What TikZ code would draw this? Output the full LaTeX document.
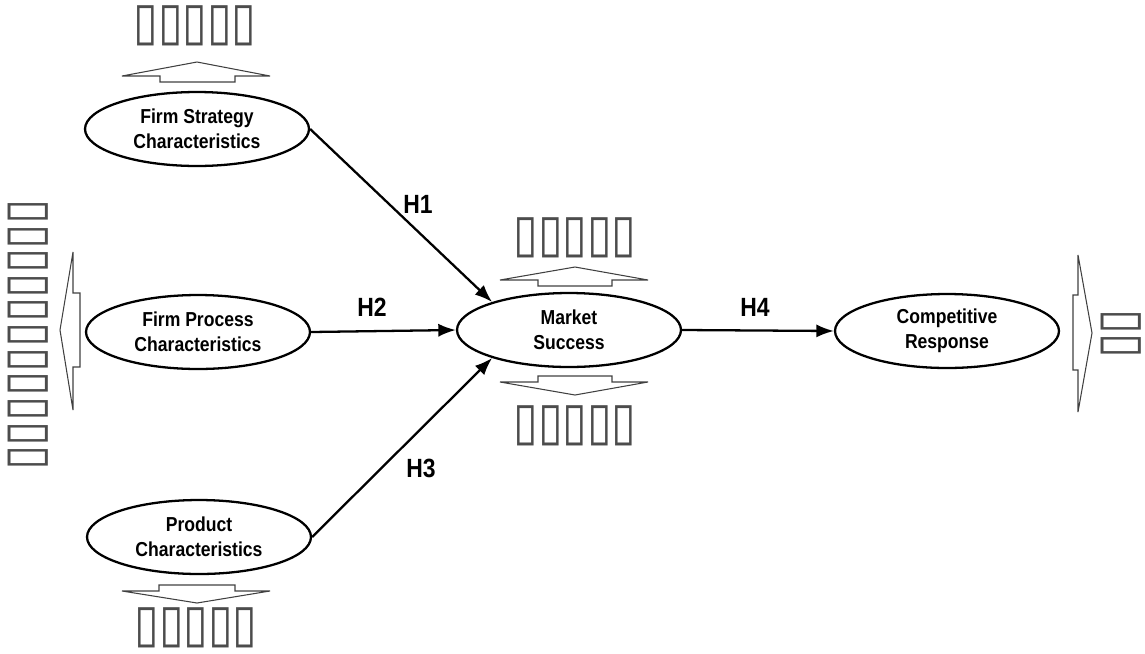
\documentclass[tikz,border=0pt]{standalone}
\usepackage{fontspec}
\setmainfont{Liberation Sans}
\newfontfamily\narrowfont[FakeStretch=0.87]{Liberation Sans}
\newfontfamily\tofufont[FakeStretch=0.85]{DejaVu Sans}
\usetikzlibrary{shapes.geometric,arrows.meta}

\tikzset{
  factor/.style={ellipse, draw, line width=1.3pt, minimum width=4.48cm, minimum height=1.48cm,
    inner sep=0pt, align=center, font=\narrowfont\bfseries\fontsize{11.5}{14.2}\selectfont},
  hyp/.style={font=\narrowfont\bfseries\fontsize{15}{17}\selectfont},
  tofu/.style={font=\tofufont\fontsize{30}{30}\selectfont, inner sep=0pt, text=black!70},
  blockarrow/.style={draw=black!75, line width=0.6pt},
  link/.style={-{Latex[length=10pt,width=7.5pt]}, line width=1.3pt},
}

\begin{document}
\begin{tikzpicture}[x=0.02cm, y=-0.02cm]
\useasboundingbox (0,0) rectangle (1145,653);
\node[factor] (fs) at (197,129) {Firm Strategy\\Characteristics};
\node[factor] (fp) at (198,332) {Firm Process\\Characteristics};
\node[factor] (pc) at (199,537) {Product\\Characteristics};
\node[factor] (ms) at (569,330) {Market\\Success};
\node[factor] (cr) at (947,331) {Competitive\\Response};

\node[hyp] (h1) at (418,204) {H1};
\node[hyp] (h2) at (372,307) {H2};
\node[hyp] (h3) at (421,468) {H3};
\node[hyp] (h4) at (755,307) {H4};

\node[tofu] (tfs) at (195,26) {▯▯▯▯▯};
\node[tofu] (tmsu) at (575,238) {▯▯▯▯▯};
\node[tofu] (tmsd) at (575,426) {▯▯▯▯▯};
\node[tofu] (tpc) at (196,628) {▯▯▯▯▯};
\node[tofu, rotate=-90] (tleft) at (28,335) {▯▯▯▯▯▯▯▯▯▯▯};
\node[tofu, rotate=-90] (tright) at (1121,334) {▯▯};

\draw[link] (fs.east)--(ms.160);
\draw[link] (fp.east)--(ms.west);
\draw[link] (pc.east)--(ms.200);
\draw[link] (ms.east)--(cr.west);

% hollow block arrows
\draw[blockarrow] (197,62)--(270,76)--(235,76)--(235,82)--(160,82)--(160,76)--(122,76)--cycle;
\draw[blockarrow] (575,267)--(648,280)--(612,280)--(612,286)--(538,286)--(538,280)--(500,280)--cycle;
\draw[blockarrow] (575,395)--(648,382)--(612,382)--(612,376)--(538,376)--(538,382)--(500,382)--cycle;
\draw[blockarrow] (197,603)--(270,591)--(235,591)--(235,585)--(159,585)--(159,591)--(122,591)--cycle;
\draw[blockarrow] (60,330)--(73,252)--(73,293)--(80,293)--(80,367)--(73,367)--(73,410)--cycle;
\draw[blockarrow] (1092,333)--(1078,255)--(1078,295)--(1073,295)--(1073,370)--(1078,370)--(1078,412)--cycle;
\end{tikzpicture}
\end{document}
